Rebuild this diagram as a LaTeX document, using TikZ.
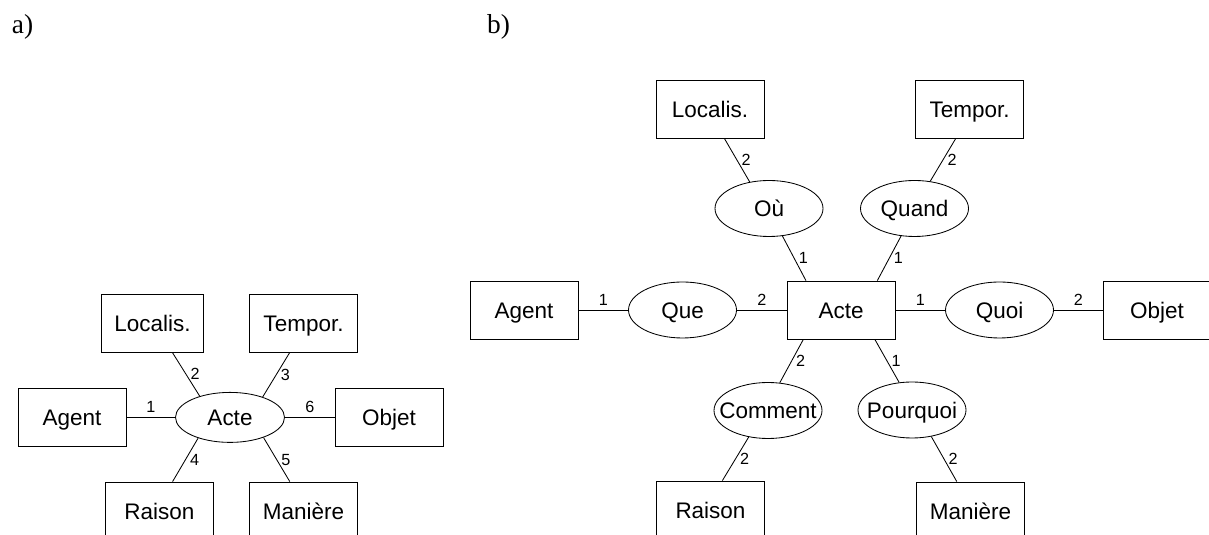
\documentclass[tikz,border=0pt]{standalone}
\usepackage{fontspec}
\setmainfont{Liberation Serif}
\setsansfont{Liberation Sans}
\usepackage{tikz}
\usetikzlibrary{shapes.geometric}

\newcommand{\ovaltxt}[1]{\makebox[0pt]{#1}}

\begin{document}
\begin{tikzpicture}[
    box/.style={draw, rectangle, minimum width=2.7cm, minimum height=1.45cm, inner sep=0pt,
        text height=11.5pt, text depth=0pt, font=\sffamily\fontsize{16}{19}\selectfont},
    oval/.style={draw, ellipse, minimum width=2.7cm, minimum height=1.4cm, inner sep=0pt,
        text height=11.5pt, text depth=0pt, font=\sffamily\fontsize{16}{19}\selectfont},
    num/.style={font=\sffamily\fontsize{11.5}{13}\selectfont, inner sep=3pt},
    line width=0.6pt]
    \useasboundingbox (0,0) rectangle (30.225,13.375);

    % Titles
    \node[font=\fontsize{19.5}{22}\selectfont] (titlea) at (0.5625,12.7) {a)};
    \node[font=\fontsize{19.5}{22}\selectfont] (titleb) at (12.4625,12.7) {b)};

    % a) Acte with numbered slots
    \node[oval, minimum width=2.725cm, minimum height=1.25cm] (acte) at (5.75,2.94) {Acte};
    \node[box] (agent) at (1.8,2.94) {Agent};
    \node[box] (objet) at (9.725,2.94) {Objet};
    \node[box, minimum width=2.55cm] (localis) at (3.8125,5.3) {Localis.};
    \node[box] (tempor) at (7.5875,5.3) {Tempor.};
    \node[box] (raison) at (3.9875,0.6) {Raison};
    \node[box] (maniere) at (7.5875,0.6) {Manière};

    \draw (agent.east) -- node[num, above] {1} (acte.west);
    \draw (localis.-56) -- node[num, right] {2} (acte.145.7);
    \draw (tempor.-115) -- node[num, right] {3} (acte.32.7);
    \draw (acte.-147) -- node[num, right] {4} (raison.66.7);
    \draw (acte.-31.3) -- node[num, right] {5} (maniere.115);
    \draw (acte.east) -- node[num, above] {6} (objet.west);

    % b) Acte with case relations
    \node[box] (acte2) at (21.025,5.625) {Acte};
    \node[box] (agent2) at (13.1,5.625) {Agent};
    \node[oval] (que) at (17.0625,5.625) {\ovaltxt{Que}};
    \node[oval] (quoi) at (24.9875,5.625) {\ovaltxt{Quoi}};
    \node[box] (objet2) at (28.925,5.625) {Objet};
    \node[box] (localis2) at (17.75,10.65) {Localis.};
    \node[oval] (ou) at (19.225,8.1625) {\ovaltxt{Où}};
    \node[box] (tempor2) at (24.2375,10.65) {Tempor.};
    \node[oval] (quand) at (22.8625,8.1625) {\ovaltxt{Quand}};
    \node[oval] (comment) at (19.2,3.1125) {\ovaltxt{Comment}};
    \node[oval] (pourquoi) at (22.8,3.125) {\ovaltxt{Pourquoi}};
    \node[box] (raison2) at (17.7625,0.625) {Raison};
    \node[box] (maniere2) at (24.2625,0.6) {Manière};

    \draw (agent2.east) -- node[num, above] {1} (que.west);
    \draw (que.east) -- node[num, above] {2} (acte2.west);
    \draw (acte2.east) -- node[num, above] {1} (quoi.west);
    \draw (quoi.east) -- node[num, above] {2} (objet2.west);
    \draw (localis2.-64) -- node[num, right] {2} (ou.126);
    \draw (ou.-64.6) -- node[num, right] {1} (acte2.140);
    \draw (tempor2.-115) -- node[num, right] {2} (quand.60);
    \draw (quand.-116) -- node[num, right] {1} (acte2.39);
    \draw (acte2.-142) -- node[num, right] {2} (comment.67);
    \draw (comment.-126) -- node[num, right] {2} (raison2.68);
    \draw (acte2.-41.7) -- node[num, right] {1} (pourquoi.115);
    \draw (pourquoi.-54.5) -- node[num, right] {2} (maniere2.115);
\end{tikzpicture}
\end{document}
